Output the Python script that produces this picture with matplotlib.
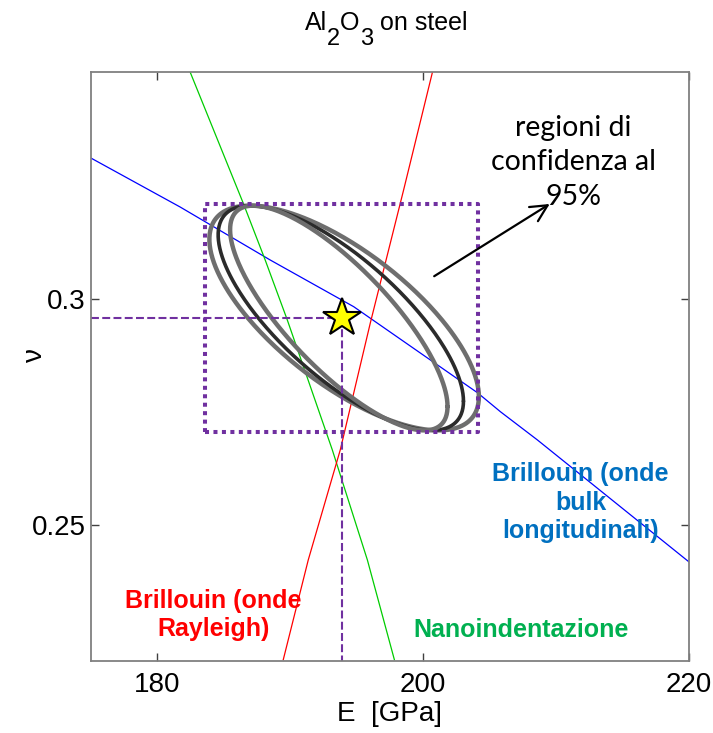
import numpy as np
import matplotlib
matplotlib.use('Agg')
import matplotlib.pyplot as plt

# curve di vincolo nel piano E - nu
blue_E = [175.0, 181.71, 188.49, 194.77, 204.09, 205.82, 208.59, 219.99]
blue_nu = [0.3310, 0.3202, 0.3085, 0.2982, 0.2792, 0.2750, 0.2688, 0.2419]

green_E = [182.46, 186.45, 188.11, 189.77, 193.16, 195.80, 197.83]
green_nu = [0.3500, 0.3211, 0.3085, 0.2953, 0.2666, 0.2423, 0.2203]

red_E = [189.47, 191.35, 193.76, 196.02, 198.53, 200.70]
red_nu = [0.2203, 0.2423, 0.2666, 0.2946, 0.3240, 0.3500]

# soluzione migliore
best_E = 193.9
best_nu = 0.2957

# regioni di confidenza (centro, deviazioni, correlazione)
ell_E0 = [194.05, 193.80, 193.65]
ell_nu0 = [0.2957, 0.2957, 0.2957]
ell_sE = [10.14, 9.23, 8.18]
ell_snu = [0.0248, 0.0248, 0.0248]
ell_rho = [-0.70, -0.74, -0.787]
ell_colors = ['#6e6e6e', '#2b2b2b', '#6e6e6e']
ell_lw = [3.2, 2.6, 3.2]

# riquadro dei limiti
box_E = [183.6, 204.1]
box_nu = [0.2706, 0.3209]

NARROW = ['Liberation Sans Narrow', 'Liberation Sans', 'DejaVu Sans']
SANS = ['Liberation Sans', 'DejaVu Sans']
CAL = ['Lato', 'DejaVu Sans']
PURPLE = '#7030A0'

fig = plt.figure(figsize=(7.13, 7.33), dpi=100)
ax = fig.add_axes([0.1276, 0.0982, 0.8387, 0.8036])

ax.plot(blue_E, blue_nu, color='#0000FF', lw=0.9)
ax.plot(green_E, green_nu, color='#00CC00', lw=0.9)
ax.plot(red_E, red_nu, color='#FF0000', lw=0.9)

t = np.linspace(0, 2 * np.pi, 400)
for E0, n0, sE, sn, r, c, lw in zip(ell_E0, ell_nu0, ell_sE, ell_snu, ell_rho, ell_colors, ell_lw):
    cov = np.array([[sE ** 2, r * sE * sn], [r * sE * sn, sn ** 2]])
    L = np.linalg.cholesky(cov)
    pts = L @ np.vstack([np.cos(t), np.sin(t)])
    ax.plot(E0 + pts[0], n0 + pts[1], color=c, lw=lw, solid_capstyle='round')

# riquadro tratteggiato
bx = [box_E[0], box_E[1], box_E[1], box_E[0], box_E[0]]
by = [box_nu[0], box_nu[0], box_nu[1], box_nu[1], box_nu[0]]
ax.plot(bx, by, color=PURPLE, lw=2.9, linestyle=(0, (1, 1.1)))

# proiezioni della soluzione sugli assi
ax.plot([175, best_E], [best_nu, best_nu], color=PURPLE, lw=1.5, linestyle=(0, (3.8, 1.6)))
ax.plot([best_E, best_E], [best_nu, 0.22], color=PURPLE, lw=1.5, linestyle=(0, (3.8, 1.6)))
ax.plot(best_E, best_nu, marker='*', markersize=29, markerfacecolor='#FFFF00',
        markeredgecolor='black', markeredgewidth=1.5, zorder=5)

ax.annotate('', xy=(209.7, 0.3212), xytext=(200.65, 0.3046),
            arrowprops=dict(arrowstyle='->', color='black', lw=1.6, mutation_scale=30))
ax.text(211.3, 0.3301, 'regioni di\nconfidenza al\n95%', ha='center', va='center',
        family=CAL, fontsize=20.5, linespacing=1.4)

ax.text(211.85, 0.2549, 'Brillouin (onde\nbulk\nlongitudinali)', ha='center', va='center',
        family=SANS, fontweight='bold', fontsize=18, color='#0070C0', linespacing=1.24)
ax.text(184.19, 0.2302, 'Brillouin (onde\nRayleigh)', ha='center', va='center',
        family=SANS, fontweight='bold', fontsize=18, color='#FF0000', linespacing=1.24)
ax.text(207.33, 0.2269, 'Nanoindentazione', ha='center', va='center',
        family=SANS, fontweight='bold', fontsize=18, color='#00B050')

ax.set_xlim(175, 220)
ax.set_ylim(0.22, 0.35)
ax.set_xticks([180, 200, 220])
ax.set_xticklabels(['180', '200', '220'], family=NARROW, fontsize=20)
ax.set_yticks([0.25, 0.3])
ax.set_yticklabels(['0.25', '0.3'], family=NARROW, fontsize=20)
ax.tick_params(direction='in', top=True, right=True, length=6, width=1,
               color='#404040', pad=8)
ax.tick_params(axis='y', pad=4)
for s in ax.spines.values():
    s.set_color('#808080')
    s.set_linewidth(1.3)

ax.set_xlabel('E  [GPa]', family=NARROW, fontsize=20, labelpad=2)
ax.set_ylabel('ν', family=NARROW, fontsize=20)
ax.yaxis.set_label_coords(-0.072, 0.52)

# titolo con pedici a grandezza quasi piena
prev = fig.text(0.4278, 0.952, 'Al', family=SANS, fontsize=18, va='bottom')
pieces = [('2', -11, 17), ('O', 11, 18), ('3', -11, 17), (' on steel', 11, 18)]
for txt, dy, fs in pieces:
    prev = ax.annotate(txt, xy=(1, 0), xycoords=prev, xytext=(0, dy),
                       textcoords='offset points', family=SANS, fontsize=fs,
                       va='bottom', ha='left', annotation_clip=False)

fig.savefig('out.png', dpi=100)
